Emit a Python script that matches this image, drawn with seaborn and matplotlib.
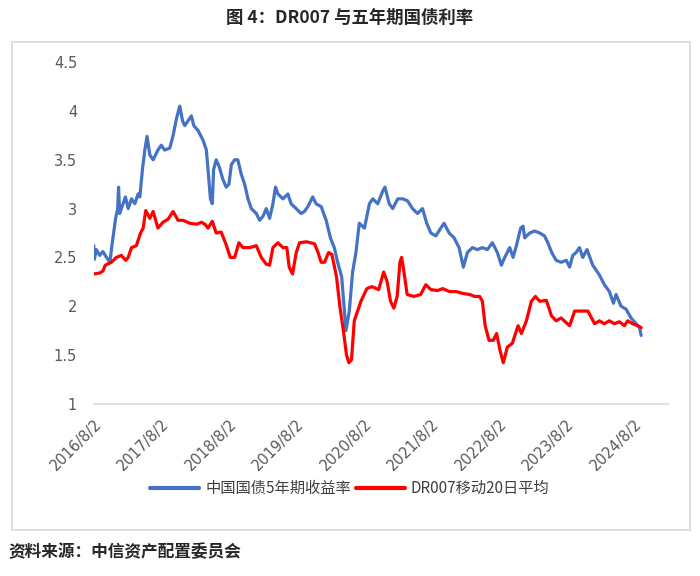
import seaborn as sns
import pandas as pd
import matplotlib
matplotlib.use('Agg')
import matplotlib.pyplot as plt
from matplotlib.patches import Rectangle
from matplotlib.lines import Line2D

sns.set_style('white')
plt.rcParams['font.family'] = ['Noto Sans CJK SC', 'DejaVu Sans']

# 中国国债5年期收益率
bond_dates = [
    '2016-08-02', '2016-08-05', '2016-08-16', '2016-09-03', '2016-09-20', '2016-10-10',
    '2016-10-28', '2016-11-10', '2016-11-28', '2016-12-09', '2016-12-14', '2016-12-20',
    '2017-01-07', '2017-01-20', '2017-02-04', '2017-02-22', '2017-03-12', '2017-03-30',
    '2017-04-08', '2017-04-22', '2017-05-05', '2017-05-17', '2017-06-01', '2017-06-19',
    '2017-07-15', '2017-08-02', '2017-08-20', '2017-09-17', '2017-10-05', '2017-10-23',
    '2017-11-10', '2017-11-25', '2017-12-07', '2017-12-25', '2018-01-12', '2018-01-25',
    '2018-02-17', '2018-03-16', '2018-04-03', '2018-04-12', '2018-04-25', '2018-05-05',
    '2018-05-12', '2018-05-26', '2018-06-13', '2018-07-01', '2018-07-19', '2018-08-03',
    '2018-08-16', '2018-09-03', '2018-09-20', '2018-10-09', '2018-10-27', '2018-11-14',
    '2018-12-02', '2018-12-29', '2019-01-16', '2019-02-03', '2019-02-21', '2019-03-11',
    '2019-03-29', '2019-04-12', '2019-04-25', '2019-05-22', '2019-06-18', '2019-07-05',
    '2019-08-02', '2019-08-28', '2019-09-15', '2019-10-04', '2019-10-30', '2019-11-17',
    '2019-12-15', '2020-01-11', '2020-02-03', '2020-02-24', '2020-03-13', '2020-04-04',
    '2020-04-27', '2020-05-15', '2020-06-02', '2020-06-20', '2020-07-08', '2020-08-05',
    '2020-09-01', '2020-09-19', '2020-10-16', '2020-11-12', '2020-11-24', '2020-12-17',
    '2021-01-05', '2021-02-01', '2021-02-28', '2021-03-26', '2021-04-22', '2021-05-19',
    '2021-06-15', '2021-07-08', '2021-07-30', '2021-08-26', '2021-09-22', '2021-10-10',
    '2021-11-06', '2021-12-03', '2021-12-30', '2022-01-22', '2022-02-13', '2022-03-12',
    '2022-04-08', '2022-05-05', '2022-06-01', '2022-06-28', '2022-07-25', '2022-08-16',
    '2022-09-03', '2022-09-30', '2022-10-18', '2022-11-05', '2022-11-28', '2022-12-11',
    '2022-12-20', '2023-01-16', '2023-02-12', '2023-03-11', '2023-04-06', '2023-04-24',
    '2023-05-15', '2023-06-08', '2023-07-05', '2023-08-02', '2023-08-20', '2023-09-06',
    '2023-09-24', '2023-10-12', '2023-10-30', '2023-11-22', '2023-12-23', '2024-01-28',
    '2024-02-24', '2024-03-22', '2024-04-13', '2024-04-27', '2024-05-24', '2024-06-20',
    '2024-07-17', '2024-08-14', '2024-09-01', '2024-09-10',
]
bond_values = [
    2.62, 2.48, 2.58, 2.52, 2.56, 2.50,
    2.45, 2.65, 2.90, 3.00, 3.22, 2.95,
    3.05, 3.12, 3.00, 3.10, 3.05, 3.15,
    3.12, 3.40, 3.60, 3.74, 3.55, 3.50,
    3.60, 3.65, 3.60, 3.62, 3.75, 3.92,
    4.05, 3.90, 3.85, 3.90, 3.95, 3.85,
    3.80, 3.70, 3.60, 3.40, 3.10, 3.05,
    3.40, 3.50, 3.42, 3.30, 3.22, 3.25,
    3.45, 3.50, 3.50, 3.35, 3.25, 3.10,
    3.00, 2.95, 2.88, 2.92, 3.00, 2.90,
    3.05, 3.22, 3.15, 3.10, 3.15, 3.05,
    3.00, 2.95, 2.97, 3.02, 3.12, 3.05,
    3.02, 2.88, 2.70, 2.60, 2.45, 2.30,
    1.75, 1.95, 2.35, 2.55, 2.85, 2.80,
    3.05, 3.10, 3.05, 3.18, 3.22, 3.05,
    3.00, 3.10, 3.10, 3.08, 3.00, 2.95,
    3.00, 2.85, 2.75, 2.72, 2.80, 2.85,
    2.75, 2.70, 2.60, 2.40, 2.55, 2.60,
    2.58, 2.60, 2.58, 2.65, 2.55, 2.42,
    2.50, 2.60, 2.50, 2.62, 2.80, 2.82,
    2.70, 2.75, 2.77, 2.75, 2.72, 2.65,
    2.55, 2.47, 2.45, 2.47, 2.40, 2.52,
    2.55, 2.60, 2.50, 2.58, 2.42, 2.32,
    2.22, 2.15, 2.03, 2.12, 2.00, 1.97,
    1.88, 1.82, 1.78, 1.70,
]

# DR007移动20日平均
dr_dates = [
    '2016-08-02', '2016-09-03', '2016-09-20', '2016-10-03', '2016-11-05', '2016-12-02',
    '2016-12-29', '2017-01-22', '2017-02-04', '2017-02-22', '2017-03-20', '2017-04-12',
    '2017-04-26', '2017-05-10', '2017-06-01', '2017-06-19', '2017-07-15', '2017-08-11',
    '2017-09-07', '2017-10-05', '2017-11-01', '2017-11-28', '2018-01-03', '2018-02-09',
    '2018-03-08', '2018-03-26', '2018-04-12', '2018-05-05', '2018-05-26', '2018-06-22',
    '2018-07-19', '2018-08-10', '2018-09-03', '2018-09-26', '2018-10-18', '2018-11-23',
    '2018-12-29', '2019-01-25', '2019-02-21', '2019-03-11', '2019-03-29', '2019-04-25',
    '2019-05-22', '2019-06-12', '2019-06-25', '2019-07-13', '2019-08-02', '2019-08-20',
    '2019-09-26', '2019-11-09', '2019-11-28', '2019-12-15', '2020-01-02', '2020-01-24',
    '2020-02-11', '2020-03-07', '2020-03-25', '2020-04-13', '2020-04-30', '2020-05-13',
    '2020-05-27', '2020-06-11', '2020-06-29', '2020-07-17', '2020-08-18', '2020-09-14',
    '2020-10-21', '2020-11-17', '2020-12-06', '2020-12-24', '2021-01-11', '2021-01-29',
    '2021-02-13', '2021-02-22', '2021-03-07', '2021-03-24', '2021-04-30', '2021-06-05',
    '2021-07-03', '2021-07-30', '2021-09-05', '2021-10-02', '2021-11-08', '2021-12-14',
    '2022-01-20', '2022-02-25', '2022-03-24', '2022-04-20', '2022-05-05', '2022-05-20',
    '2022-06-10', '2022-07-03', '2022-07-21', '2022-08-08', '2022-08-26', '2022-09-17',
    '2022-10-14', '2022-11-14', '2022-12-02', '2022-12-29', '2023-01-25', '2023-02-16',
    '2023-03-11', '2023-04-16', '2023-05-14', '2023-06-08', '2023-07-05', '2023-08-02',
    '2023-08-20', '2023-09-16', '2023-10-22', '2023-11-27', '2024-01-02', '2024-01-28',
    '2024-02-24', '2024-03-22', '2024-04-18', '2024-05-15', '2024-06-11', '2024-06-29',
    '2024-07-26', '2024-08-22', '2024-09-10',
]
dr_values = [
    2.33, 2.34, 2.36, 2.42, 2.45, 2.50,
    2.52, 2.47, 2.50, 2.60, 2.62, 2.75,
    2.80, 2.98, 2.90, 2.97, 2.80, 2.86,
    2.89, 2.97, 2.88, 2.88, 2.85, 2.84,
    2.86, 2.84, 2.80, 2.87, 2.75, 2.76,
    2.63, 2.50, 2.50, 2.65, 2.60, 2.60,
    2.62, 2.50, 2.43, 2.42, 2.60, 2.65,
    2.60, 2.60, 2.40, 2.33, 2.55, 2.65,
    2.66, 2.64, 2.55, 2.45, 2.45, 2.55,
    2.53, 2.30, 2.00, 1.75, 1.50, 1.42,
    1.45, 1.85, 1.95, 2.05, 2.18, 2.20,
    2.17, 2.35, 2.25, 2.05, 1.98, 2.10,
    2.45, 2.50, 2.35, 2.12, 2.10, 2.12,
    2.22, 2.17, 2.16, 2.18, 2.15, 2.15,
    2.13, 2.12, 2.10, 2.10, 2.05, 1.80,
    1.65, 1.65, 1.72, 1.55, 1.42, 1.58,
    1.62, 1.80, 1.72, 1.85, 2.05, 2.10,
    2.05, 2.06, 1.90, 1.85, 1.88, 1.83,
    1.80, 1.95, 1.95, 1.95, 1.82, 1.85,
    1.82, 1.85, 1.82, 1.84, 1.80, 1.85,
    1.82, 1.80, 1.78,
]

series_names = ['中国国债5年期收益率', 'DR007移动20日平均']
series_colors = ['#4472C4', '#FF0000']
tick_dates = ['2016-08-02', '2017-08-02', '2018-08-02', '2019-08-02', '2020-08-02',
              '2021-08-02', '2022-08-02', '2023-08-02', '2024-08-02']
tick_labels = ['2016/8/2', '2017/8/2', '2018/8/2', '2019/8/2', '2020/8/2',
               '2021/8/2', '2022/8/2', '2023/8/2', '2024/8/2']
y_ticks = [1, 1.5, 2, 2.5, 3, 3.5, 4, 4.5]
y_labels = ['1', '1.5', '2', '2.5', '3', '3.5', '4', '4.5']

df = pd.concat([
    pd.DataFrame({'date': pd.to_datetime(bond_dates), 'value': bond_values, 'series': series_names[0]}),
    pd.DataFrame({'date': pd.to_datetime(dr_dates), 'value': dr_values, 'series': series_names[1]}),
])

fig = plt.figure(figsize=(7, 5.76), dpi=100)
ax = fig.add_axes([0.134, 0.299, 0.82, 0.593])

sns.lineplot(data=df, x='date', y='value', hue='series', palette=series_colors,
             linewidth=2.3, ax=ax, legend=False)

ax.set_xlim(pd.Timestamp('2016-08-02'), pd.Timestamp('2025-02-01'))
ax.set_ylim(1, 4.5)
ax.set_yticks(y_ticks)
ax.set_yticklabels(y_labels, color='#595959', fontsize=10.5, family='DejaVu Sans')
ax.set_xticks(pd.to_datetime(tick_dates))
ax.set_xticklabels(tick_labels, rotation=45, ha='right', rotation_mode='anchor',
                   color='#595959', fontsize=10.5, family='DejaVu Sans')
ax.tick_params(axis='y', length=0, pad=12)
ax.tick_params(axis='x', length=5, color='#d9d9d9', width=1, pad=4)
ax.set_xlabel('')
ax.set_ylabel('')
for s in ['top', 'right', 'left']:
    ax.spines[s].set_visible(False)
ax.spines['bottom'].set_color('#d9d9d9')
ax.spines['bottom'].set_linewidth(1.2)

handles = [Line2D([0], [0], color=c, lw=3) for c in series_colors]
fig.legend(handles, series_names, loc='center', bbox_to_anchor=(0.5, 0.152), ncol=2,
           frameon=False, fontsize=11, handlelength=3.2, handletextpad=0.4, columnspacing=0.3,
           labelcolor='#404040')

# outer frame of the chart
fig.patches.append(Rectangle((0.017, 0.08), 0.969, 0.847, transform=fig.transFigure,
                             fill=False, edgecolor='#d9d9d9', linewidth=1.2))

fig.text(0.5, 0.968, '图 4：DR007 与五年期国债利率', ha='center', va='center',
         fontsize=12.5, fontweight='bold')
fig.text(0.012, 0.041, '资料来源：中信资产配置委员会', ha='left', va='center',
         fontsize=12, fontweight='bold')

fig.savefig('out.png', dpi=100)
